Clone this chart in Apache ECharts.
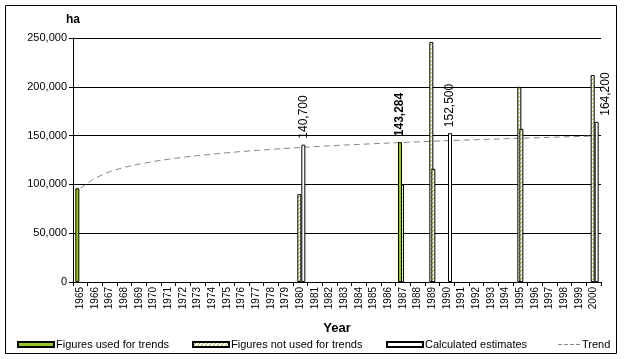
<!DOCTYPE html>
<html>
<head>
<meta charset="utf-8">
<script src="https://cdn.jsdelivr.net/npm/echarts@6/dist/echarts.min.js"></script>
<style>html,body{margin:0;padding:0;background:#fff}#c{width:626px;height:359px}</style>
</head>
<body>
<div id="c"></div>
<script>
var years = ['1965','1966','1967','1968','1969','1970','1971','1972','1973','1974','1975','1976','1977','1978','1979','1980','1981','1982','1983','1984','1985','1986','1987','1988','1989','1990','1991','1992','1993','1994','1995','1996','1997','1998','1999','2000'];
var usedForTrends = {'1965': 96000, '1987': 143284};
var notUsedA = {'1980': 90000, '1987': 100000, '1989': 246000, '1995': 200000, '2000': 212000};
var notUsedB = {'1989': 116000, '1995': 157000};
var calculated = {'1980': 140700, '1990': 152500, '2000': 164200};
var trend = [96000,106500,113000,117500,120800,123500,125800,127800,129500,131000,132400,133700,134800,135900,136900,137800,138700,139500,140300,141000,141700,142400,143000,143600,144200,144800,145300,145800,146300,146800,147300,147800,148200,148700,149100,149500];

var FONT = 'Arial, "Liberation Sans", sans-serif';
function fmt(v){ return Number(v).toLocaleString('en-US'); }
function toSeries(map){ return years.map(function(y){ return map[y] === undefined ? null : map[y]; }); }

var pc = document.createElement('canvas');
pc.width = 4; pc.height = 4;
var g = pc.getContext('2d');
g.fillStyle = '#ffffff'; g.fillRect(0,0,4,4);
g.fillStyle = '#99cc00';
for (var i = 0; i < 4; i++) { g.fillRect(3 - i, i, 1, 1); }
var hatch = { image: pc, repeat: 'repeat' };

var labelBase = { show: true, position: 'top', rotate: 90, align: 'left', verticalAlign: 'middle', distance: 6, fontSize: 12, fontFamily: FONT, color: '#000', formatter: function(p){ return fmt(p.value); } };

var greenData = years.map(function(y){
  var v = usedForTrends[y];
  if (v === undefined) return null;
  if (y === '1987') return { value: v, label: Object.assign({}, labelBase, { fontWeight: 'bold' }) };
  return v;
});
var calcData = years.map(function(y){
  var v = calculated[y];
  if (v === undefined) return null;
  var lab = Object.assign({}, labelBase);
  if (y === '2000') lab.offset = [0, 9];
  return { value: v, label: lab };
});

var dashIcon = 'path://M0,0h4v1h-4zM6,0h4v1h-4zM12,0h4v1h-4zM18,0h4v1h-4z';

var chart = echarts.init(document.getElementById('c'));
chart.setOption({
  animation: false,
  backgroundColor: '#fff',
  grid: { left: 73, right: 25, top: 38, bottom: 77, containLabel: false },
  xAxis: {
    type: 'category', data: years, boundaryGap: true,
    name: 'Year', nameLocation: 'middle', nameGap: 40,
    nameTextStyle: { fontFamily: FONT, fontSize: 13, fontWeight: 'bold', color: '#000' },
    axisLine: { lineStyle: { color: '#000', width: 1 } },
    axisTick: { show: true, alignWithLabel: false, length: 4, lineStyle: { color: '#000' } },
    axisLabel: { rotate: 90, interval: 0, fontSize: 10, fontFamily: FONT, color: '#000', margin: 5 }
  },
  yAxis: {
    type: 'value', min: 0, max: 250000, interval: 50000,
    name: 'ha', nameLocation: 'end', nameGap: 12,
    nameTextStyle: { fontFamily: FONT, fontSize: 12, fontWeight: 'bold', color: '#000', align: 'center' },
    axisLine: { show: true, lineStyle: { color: '#000', width: 1 } },
    axisTick: { show: true, length: 4, lineStyle: { color: '#000' } },
    axisLabel: { fontSize: 11, fontFamily: FONT, color: '#000', margin: 6, formatter: function(v){ return fmt(v); } },
    splitLine: { show: true, lineStyle: { color: '#000', width: 1 } }
  },
  legend: [
    { data: [{ name: 'Figures used for trends', icon: 'rect' }], left: 17, top: 339 },
    { data: [{ name: 'Figures not used for trends', icon: 'rect' }], left: 192, top: 339 },
    { data: [{ name: 'Calculated estimates', icon: 'rect' }], left: 386, top: 339 },
    { data: [{ name: 'Trend', icon: dashIcon }], left: 558, top: 339, itemWidth: 22, itemHeight: 1 }
  ].map(function(l){
    return Object.assign({ itemWidth: 36, itemHeight: 5, itemGap: 0, textStyle: { fontFamily: FONT, fontSize: 11, color: '#000', padding: [0,0,0,-3] }, padding: 0 }, l);
  }),
  graphic: [{ type: 'rect', shape: { x: 5.5, y: 5.5, width: 611, height: 348 }, style: { fill: null, stroke: '#000', lineWidth: 1 }, silent: true }],
  series: [
    { name: 'Figures used for trends', type: 'bar', data: greenData, barWidth: 4, barGap: '-50%', z: 4,
      itemStyle: { color: '#99cc00', borderColor: '#000', borderWidth: 1 } },
    { name: 'Figures not used for trends', type: 'bar', data: toSeries(notUsedA), barWidth: 4, barGap: '-50%', z: 2,
      itemStyle: { color: hatch, borderColor: '#000', borderWidth: 1 } },
    { name: 'Figures not used for trends', type: 'bar', data: toSeries(notUsedB), barWidth: 4, barGap: '-50%', z: 3,
      itemStyle: { color: hatch, borderColor: '#000', borderWidth: 1 } },
    { name: 'Calculated estimates', type: 'bar', data: calcData, barWidth: 4, barGap: '-50%', z: 3,
      itemStyle: { color: '#fff', borderColor: '#000', borderWidth: 1 } },
    { name: 'Trend', type: 'line', data: trend, symbol: 'none', showSymbol: false, z: 1,
      lineStyle: { color: '#888', width: 1, type: [6, 4] }, itemStyle: { color: '#888' } }
  ]
});
</script>
</body>
</html>
